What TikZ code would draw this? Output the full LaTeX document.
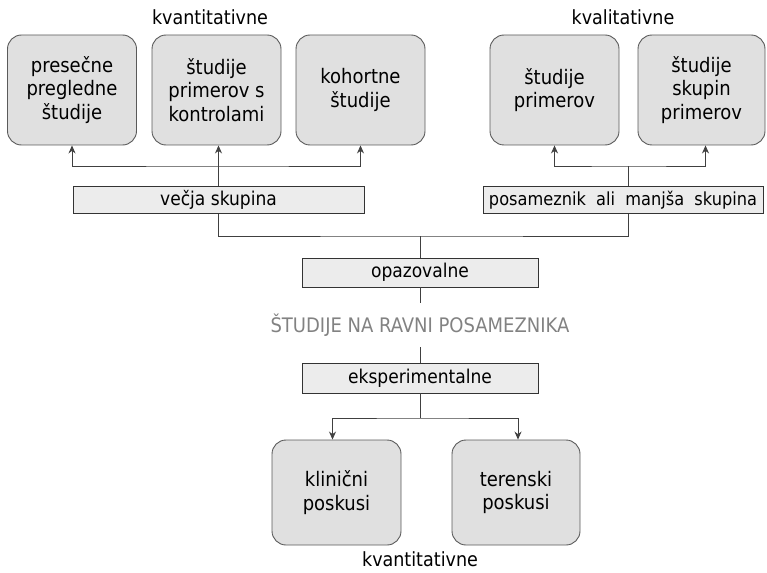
\documentclass[tikz,border=0pt]{standalone}
\usepackage{fontspec}
\setmainfont{DejaVu Sans Condensed}
\usepackage{tikz}
\usetikzlibrary{arrows,arrows.meta,shapes,calc,positioning}
\definecolor{sivaSkatla}{RGB}{224,224,224}
\definecolor{sivaPas}{RGB}{236,236,236}
\definecolor{sivNaslov}{RGB}{130,130,130}
\definecolor{robSkatla}{RGB}{90,90,90}
\tikzstyle{skatla}=[rectangle, rounded corners=14pt, draw=robSkatla,
                    fill=sivaSkatla, line width=0.9pt, align=center,
                    minimum width=129pt, minimum height=110pt,
                    inner sep=2pt, font=\fontsize{20}{23.5}\selectfont]
\tikzstyle{pas}   =[rectangle, draw=black!80, fill=sivaPas,
                    line width=0.8pt, minimum height=27pt,
                    inner sep=2pt, font=\fontsize{19}{22}\selectfont]
\tikzstyle{edge}  =[>={Stealth[length=8pt,width=7pt]}, line width=0.8pt,
                    draw=black!75]
\tikzstyle{oznaka}=[font=\fontsize{19.5}{22}\selectfont]

\begin{document}
\begin{tikzpicture}[x=1pt,y=-1pt]
    \useasboundingbox (0,0) rectangle (767,572);

    % zgornja vrsta
    \node[oznaka] (kvant1) at (210,17) {kvantitativne};
    \node[oznaka] (kval)   at (623,17) {kvalitativne};

    \node[skatla] (presecne)  at (72,90)    {presečne\\pregledne\\študije};
    \node[skatla] (primkontr) at (216.5,90) {študije\\primerov s\\kontrolami};
    \node[skatla] (kohortne)  at (360.5,90) {kohortne\\študije};
    \node[skatla] (primerov)  at (554.5,90) {študije\\primerov};
    \node[skatla, minimum width=127pt] (skupine) at (701.5,90)
        {študije\\skupin\\primerov};

    \node[pas, minimum width=291pt] (vecja) at (218.5,200) {večja skupina};
    \node[pas, minimum width=280pt, font=\fontsize{18}{21}\selectfont]
        (posam) at (623,200) {posameznik~ ali~ manjša~ skupina};

    % sredina
    \node[pas, minimum width=236pt, minimum height=29pt] (opaz) at (420,272.5)
        {opazovalne};
    \node[font=\fontsize{20}{22}\selectfont, text=sivNaslov,
          minimum height=44pt, inner sep=0pt] (naslov) at (420,325)
        {ŠTUDIJE NA RAVNI POSAMEZNIKA};
    \node[pas, minimum width=236pt, minimum height=30pt] (eksp) at (420,378)
        {eksperimentalne};

    % spodnja vrsta
    \node[skatla, minimum height=105pt] (klinicni) at (336.5,492.5)
        {klinični\\poskusi};
    \node[skatla, minimum height=105pt, minimum width=128pt] (terenski)
        at (516,492.5) {terenski\\poskusi};
    \node[oznaka] (kvant2) at (420,559) {kvantitativne};

    \coordinate (razcep1) at (218.5,166);
    \coordinate (razcep2) at (420,236);
    \coordinate (razcep3) at (420,418);
    \coordinate (razcep4) at (628,166);

    \draw[edge,->] (vecja.north) -- (vecja.north |- primkontr.south);
    \draw[edge,<->] (presecne.south) |- (razcep1) -| (kohortne.south);
    \draw[edge] (posam.north -| razcep4) -- (razcep4);
    \draw[edge,<->] (primerov.south) |- (razcep4) -| ($(skupine.south)+(4,0)$);

    \draw[edge] (vecja.south) |- (razcep2) -| (posam.south -| razcep4);
    \draw[edge] (razcep2) -- (opaz.north);
    \draw[edge] (opaz.south) -- (naslov.north);
    \draw[edge] (naslov.south) -- (eksp.north);
    \draw[edge] (eksp.south) -- (razcep3);
    \draw[edge,<->] ($(klinicni.north)+(-4,0)$) |- (razcep3)
        -| ($(terenski.north)+(2,0)$);
\end{tikzpicture}
\end{document}
